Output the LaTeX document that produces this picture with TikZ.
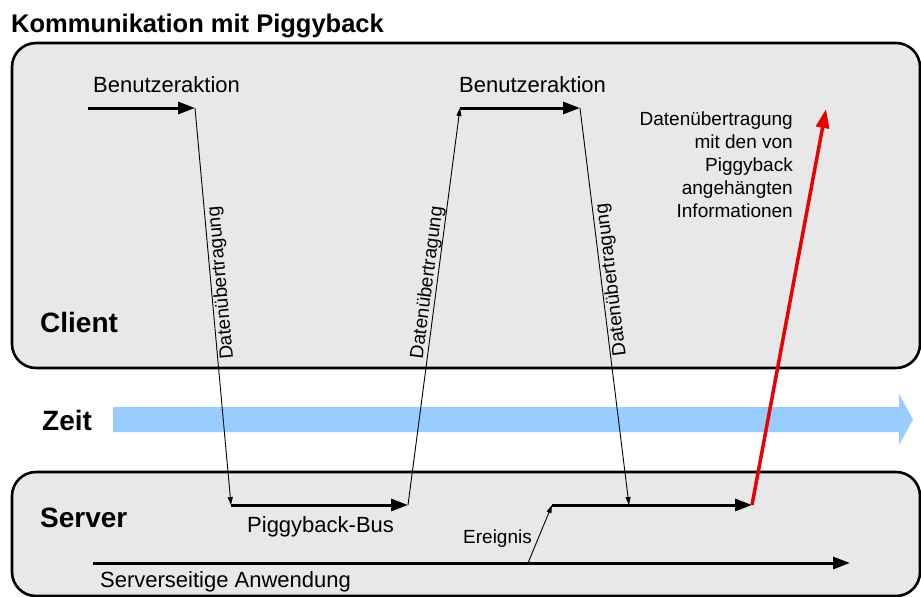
\documentclass[tikz,border=0pt]{standalone}
\usepackage{fontspec}
\setmainfont{Liberation Sans}
\usetikzlibrary{arrows.meta}
\definecolor{boxgray}{RGB}{232,232,232}
\definecolor{zeitblue}{RGB}{153,204,255}
\definecolor{pushred}{RGB}{235,0,0}

\begin{document}
\begin{tikzpicture}[x=1pt,y=-1pt,
  lane/.style={draw=black, line width=2.6pt, fill=boxgray, rounded corners=24pt},
  flow/.style={line width=3pt, -{Triangle[length=17pt,width=12pt]}},
  transfer/.style={line width=0.9pt, -{Triangle[length=8pt,width=5pt]}},
  push/.style={line width=3.5pt, draw=pushred, -{Triangle[length=19pt,width=13pt]}},
  lbl/.style={inner sep=0pt, font=\fontsize{22}{26}\selectfont},
  small/.style={inner sep=0pt, font=\fontsize{19}{23}\selectfont},
  heading/.style={inner sep=0pt, font=\fontsize{28}{32}\selectfont\bfseries},
]
\useasboundingbox (0,0) rectangle (921,597);
\fill[white] (0,0) rectangle (921,597);

% swim lanes
\draw[lane] (12,43) rectangle (920,368);
\draw[lane] (12,472) rectangle (920,596);

% time axis
\fill[zeitblue] (113,407) -- (899,407) -- (899,394) -- (913,419.5)
  -- (899,445) -- (899,432) -- (113,432) -- cycle;

% headings
\node[inner sep=0pt, font=\fontsize{25.5}{30}\selectfont\bfseries, anchor=base west]
  (title) at (11,32) {Kommunikation mit Piggyback};
\node[heading, anchor=base west] (client) at (40,332) {Client};
\node[heading, anchor=base west] (zeit) at (42,430) {Zeit};
\node[heading, anchor=base west] (server) at (40,527) {Server};

% labels
\node[lbl, anchor=base west] (ba1) at (93,92) {Benutzeraktion};
\node[lbl, anchor=base west] (ba2) at (459,92) {Benutzeraktion};
\node[lbl, anchor=base west] (bus) at (247,532) {Piggyback-Bus};
\node[lbl, anchor=base west] (app) at (100,587) {Serverseitige Anwendung};
\node[small, anchor=base west] (ereignis) at (463,543) {Ereignis};
\node[small, align=right, anchor=north east] (note) at (793,112)
  {Datenübertragung\\mit den von\\Piggyback\\angehängten\\Informationen};

% path points
\coordinate (a1) at (88,108);
\coordinate (a2) at (195,108);
\coordinate (b1) at (231,505);
\coordinate (b2) at (408,505);
\coordinate (a3) at (460,108);
\coordinate (a4) at (580,108);
\coordinate (b3) at (629,505);
\coordinate (e1) at (528,563);
\coordinate (e2) at (552,505);
\coordinate (e3) at (752,505);
\coordinate (r1) at (826,109);
\coordinate (s1) at (93,563);
\coordinate (s2) at (850,563);

% data transfers between client and server
\draw[transfer] (a2) -- node[small, pos=0.443, rotate=95.2, anchor=north, inner sep=1pt] (d1) {Datenübertragung} (b1);
\draw[transfer] (b2) -- node[small, pos=0.557, rotate=82.5, anchor=south, inner sep=0pt] (d2) {Datenübertragung} (a3);
\draw[transfer] (a4) -- node[small, pos=0.436, rotate=97.0, anchor=north, inner sep=1pt] (d3) {Datenübertragung} (b3);
\draw[transfer] (e1) -- (e2);

% actions and server flows
\draw[flow] (a1) -- (a2);
\draw[flow] (a3) -- (a4);
\draw[flow] (b1) -- (b2);
\draw[flow] (e2) -- (e3);
\draw[flow] (s1) -- (s2);

% piggyback delivery
\draw[push] (e3) -- (r1);
\end{tikzpicture}
\end{document}
